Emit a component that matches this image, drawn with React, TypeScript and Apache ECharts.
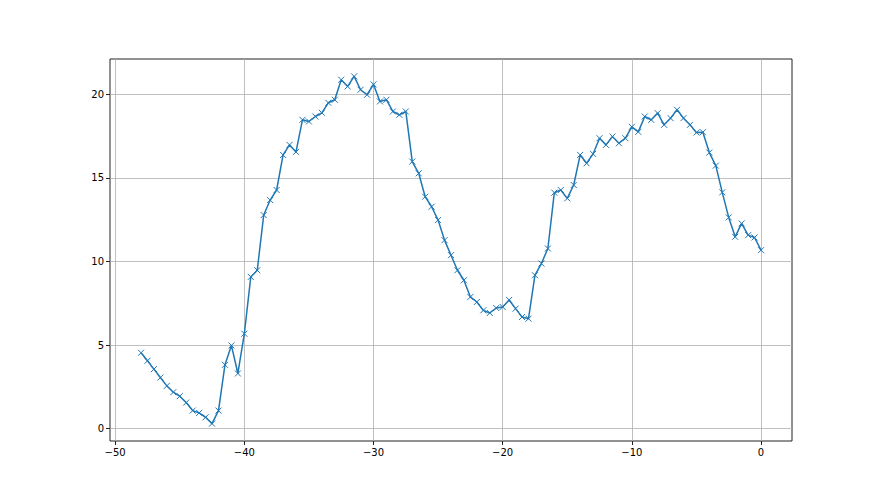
import React, { useEffect, useRef } from "react";
import * as echarts from "echarts";

const xValues: number[] = [
  -48, -47.5, -47, -46.5, -46, -45.5, -45, -44.5, -44, -43.5, -43, -42.5, -42, -41.5, -41, -40.5,
  -40, -39.5, -39, -38.5, -38, -37.5, -37, -36.5, -36, -35.5, -35, -34.5, -34, -33.5, -33, -32.5,
  -32, -31.5, -31, -30.5, -30, -29.5, -29, -28.5, -28, -27.5, -27, -26.5, -26, -25.5, -25, -24.5,
  -24, -23.5, -23, -22.5, -22, -21.5, -21, -20.5, -20, -19.5, -19, -18.5, -18, -17.5, -17, -16.5,
  -16, -15.5, -15, -14.5, -14, -13.5, -13, -12.5, -12, -11.5, -11, -10.5, -10, -9.5, -9, -8.5,
  -8, -7.5, -7, -6.5, -6, -5.5, -5, -4.5, -4, -3.5, -3, -2.5, -2, -1.5, -1, -0.5, 0,
];

const yValues: number[] = [
  4.54, 4.06, 3.56, 3.06, 2.56, 2.18, 1.94, 1.56, 1.08, 0.94, 0.68, 0.3, 1.08, 3.82, 4.98, 3.3,
  5.68, 9.08, 9.48, 12.78, 13.68, 14.28, 16.38, 16.98, 16.56, 18.48, 18.38, 18.68, 18.9, 19.5, 19.68, 20.88,
  20.48, 21.08, 20.28, 19.98, 20.6, 19.58, 19.68, 18.98, 18.78, 18.98, 15.98, 15.28, 13.88, 13.28, 12.48, 11.28,
  10.38, 9.48, 8.88, 7.88, 7.58, 7.08, 6.92, 7.22, 7.28, 7.7, 7.18, 6.68, 6.58, 9.18, 9.88, 10.78,
  14.12, 14.28, 13.78, 14.58, 16.38, 15.88, 16.44, 17.38, 16.98, 17.48, 17.08, 17.38, 18.06, 17.76, 18.68, 18.48,
  18.88, 18.18, 18.58, 19.08, 18.58, 18.18, 17.72, 17.74, 16.52, 15.74, 14.14, 12.64, 11.48, 12.28, 11.58, 11.44, 10.68,
];

const xTicks: number[] = [-50, -40, -30, -20, -10, 0];
const yTicks: number[] = [0, 5, 10, 15, 20];

const fmt = (v: number) => String(v).replace("-", "\u2212");

export default function App() {
  const ref = useRef<HTMLDivElement>(null);
  useEffect(() => {
    if (!ref.current) return;
    const chart = echarts.init(ref.current, null, { renderer: "svg" });
    const data = xValues.map((x, i) => [x, yValues[i]]);
    const tick = { show: true, inside: false, length: 4, lineStyle: { color: "#222", width: 1 } };
    const label = {
      formatter: (v: number) => fmt(v),
      color: "#000",
      fontFamily: "DejaVu Sans",
      fontSize: 10,
      margin: 6,
    };
    chart.setOption({
      animation: false,
      backgroundColor: "#ffffff",
      grid: {
        left: 110,
        right: 88,
        top: 59,
        bottom: 54,
        show: true,
        borderColor: "#222",
        borderWidth: 1,
        backgroundColor: "transparent",
      },
      xAxis: {
        type: "value",
        min: -50.4,
        max: 2.4,
        axisLine: { show: false, onZero: false },
        axisTick: { ...tick, customValues: xTicks },
        axisLabel: { ...label, customValues: xTicks },
        splitLine: { show: true, lineStyle: { color: "#b0b0b0", width: 0.8 } },
      },
      yAxis: {
        type: "value",
        min: -0.74,
        max: 22.12,
        axisLine: { show: false, onZero: false },
        axisTick: { ...tick, customValues: yTicks },
        axisLabel: { ...label, customValues: yTicks },
        splitLine: { show: true, lineStyle: { color: "#b0b0b0", width: 0.8 } },
      },
      series: [
        {
          type: "line",
          data,
          lineStyle: { color: "#1f77b4", width: 1.5 },
          symbol: "path://M0,0L10,10M10,0L0,10",
          symbolSize: 6,
          showSymbol: true,
          itemStyle: { color: "transparent", borderColor: "#1f77b4", borderWidth: 1 },
          emphasis: { disabled: true },
        },
      ],
    });
    return () => chart.dispose();
  }, []);
  return <div ref={ref} style={{ width: 880, height: 495, position: "absolute", left: 0, top: 0 }} />;
}
